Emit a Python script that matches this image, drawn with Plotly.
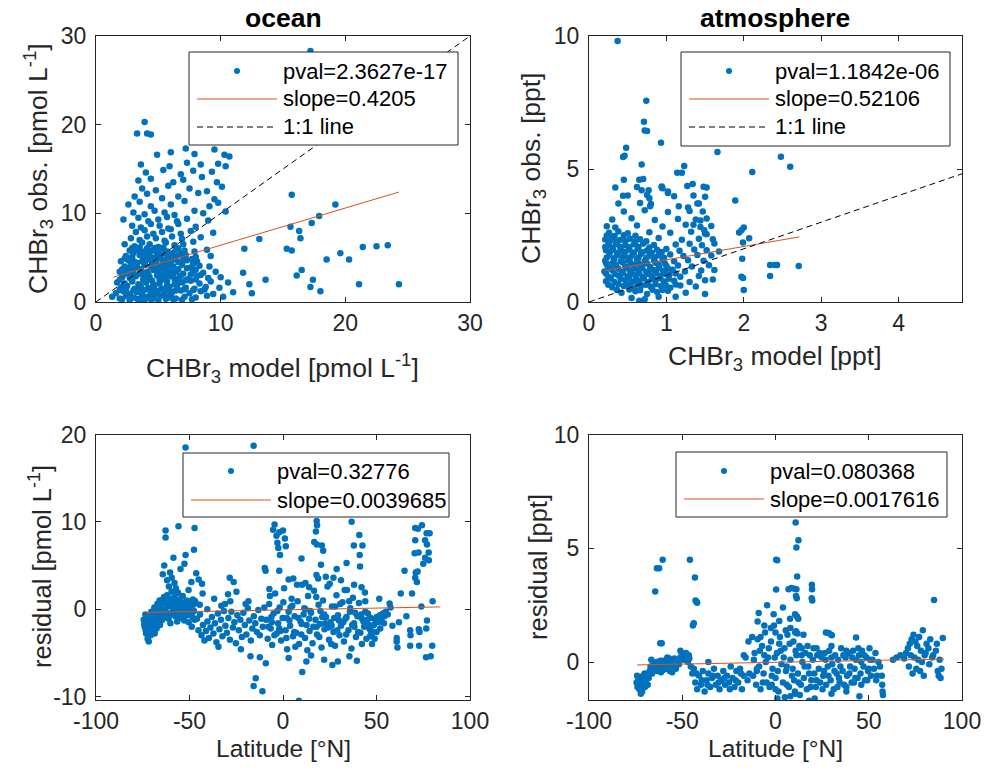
import plotly.graph_objects as go
from plotly.subplots import make_subplots

# ocean: model vs observed CHBr3 [pmol/L]
ocean_model = [
    1.3, 1.9, 2.4, 3.0, 3.5, 4.1, 4.6, 5.2, 5.8, 6.4, 7.1, 8.0, 8.9, 10.2,
    1.6, 2.2, 2.7, 3.3, 3.8, 4.4, 4.9, 5.5, 6.1, 6.8, 7.5, 8.4, 9.4, 11.0,
    2.0, 2.5, 3.1, 3.6, 4.2, 4.7, 5.3, 5.9, 6.5, 7.2, 7.9, 8.8, 9.9,
    1.7, 2.3, 2.9, 3.4, 4.0, 4.5, 5.1, 5.7, 6.3, 6.9, 7.6, 8.3, 9.2, 10.6,
    2.1, 2.7, 3.2, 3.8, 4.3, 4.9, 5.5, 6.0, 6.7, 7.4, 8.1, 9.0, 10.0,
    1.9, 2.4, 3.0, 3.5, 4.1, 4.6, 5.2, 5.8, 6.4, 7.0, 7.8, 8.6, 9.6,
    2.3, 2.8, 3.3, 3.9, 4.4, 5.0, 5.6, 6.2, 6.9, 7.6, 8.3, 9.1,
    2.0, 2.6, 3.1, 3.7, 4.2, 4.8, 5.4, 6.0, 6.6, 7.3, 8.1,
    2.4, 2.9, 3.5, 4.0, 4.6, 5.2, 5.8, 6.5, 7.2, 8.0, 9.2,
    2.7, 3.3, 3.9, 4.5, 5.1, 5.7, 6.4, 7.1, 7.9, 8.9,
    2.3, 3.1, 3.7, 4.3, 5.0, 5.6, 6.3, 7.0, 7.8,
    2.8, 3.5, 4.1, 4.8, 5.5, 6.1, 6.9, 8.4,
    3.2, 3.9, 4.6, 5.3, 6.0, 6.8, 7.6, 9.4,
    2.9, 3.6, 4.4, 5.1, 5.8, 6.6, 8.0,
    2.2, 3.4, 4.2, 5.0, 5.7, 6.5, 7.3, 9.0,
    3.0, 3.9, 4.7, 5.5, 6.3, 7.9, 8.6, 10.4,
    2.6, 3.5, 4.4, 6.0, 7.1, 9.1, 9.8,
    3.1, 4.1, 5.3, 6.6, 8.2, 9.5,
    3.7, 4.8, 5.8, 7.5, 8.9, 10.1,
    3.4, 4.4, 6.2, 7.0, 8.5, 9.7,
    4.0, 5.4, 6.8, 7.8, 9.3,
    3.6, 5.9, 7.3, 8.4, 9.8, 10.4,
    4.9, 6.0, 7.9, 10.3, 10.7,
    3.3, 3.9, 4.1, 4.4, 7.2, 9.5, 17.2,
    11.8, 11.9, 12.3, 12.5, 13.1, 13.6, 15.3, 15.6, 15.7, 15.7, 16.1, 16.3, 16.4, 16.5,
    17.3, 17.4, 17.2, 17.9, 18.0, 18.5, 19.2, 20.3, 21.1, 21.4, 22.5, 23.4, 24.3, 19.6,
    2.6, 3.2, 3.7, 4.3, 4.8, 5.4, 6.0, 2.9, 3.5, 4.0, 4.6, 5.1, 5.7, 6.3,
    3.0, 3.6, 4.2, 4.7, 5.3, 6.8, 7.3, 3.3, 4.5, 5.0, 5.6, 6.2,
    2.1, 2.7, 3.3, 3.9, 4.4, 5.0, 5.6, 6.2, 6.9, 7.7,
    1.9, 2.4, 3.0, 3.5, 4.1, 4.6, 5.2, 5.8, 6.4, 7.1, 7.8, 8.7,
    1.9, 3.8, 5.3, 6.6, 7.2, 8.0,
    2.2, 2.7, 3.9, 5.0, 5.6, 6.2, 7.6, 8.4,
    2.1, 2.6, 4.8, 5.4, 6.0, 6.6, 8.0,
    2.8, 3.9, 5.3, 6.0, 6.9, 7.8,
    2.3, 2.9, 3.8, 5.7, 6.3, 7.0, 7.7,
    3.0, 3.7, 4.3, 4.9, 5.5, 6.1, 6.8,
    2.9, 3.5, 4.1, 4.7, 5.4, 6.6,
]
ocean_obs = [
    0.6, 0.4, 0.7, 0.5, 0.3, 0.6, 0.4, 0.7, 0.5, 0.4, 0.6, 0.5, 0.7, 0.6,
    1.0, 1.2, 0.9, 1.1, 1.3, 1.0, 1.2, 0.9, 1.1, 1.3, 1.0, 1.2, 0.9, 1.1,
    1.6, 1.8, 1.5, 1.7, 1.6, 1.9, 1.5, 1.7, 1.8, 1.6, 1.5, 1.7, 1.6,
    2.2, 2.1, 2.3, 2.0, 2.2, 2.4, 2.1, 2.3, 2.0, 2.2, 2.4, 2.1, 2.3, 2.2,
    2.8, 2.7, 2.9, 2.6, 2.8, 3.0, 2.7, 2.9, 2.8, 2.6, 2.9, 2.7, 2.8,
    3.4, 3.3, 3.5, 3.2, 3.4, 3.6, 3.3, 3.5, 3.4, 3.2, 3.5, 3.3, 3.4,
    4.0, 4.1, 3.9, 4.2, 4.0, 3.9, 4.1, 4.0, 4.2, 3.9, 4.1, 4.0,
    4.6, 4.7, 4.5, 4.6, 4.8, 4.5, 4.7, 4.6, 4.5, 4.7, 4.6,
    5.2, 5.1, 5.3, 5.2, 5.0, 5.3, 5.1, 5.2, 5.3, 5.1, 5.2,
    5.8, 5.9, 5.7, 5.8, 6.0, 5.7, 5.9, 5.8, 5.7, 5.9,
    6.5, 6.3, 6.7, 6.5, 6.2, 6.7, 6.4, 6.5, 6.8,
    7.2, 7.0, 7.4, 7.2, 6.9, 7.4, 7.1, 7.3,
    7.9, 8.1, 7.7, 7.9, 8.2, 7.7, 8.0, 7.8,
    8.6, 8.4, 8.8, 8.6, 8.3, 8.8, 8.5,
    9.3, 9.5, 9.1, 9.3, 9.6, 9.1, 9.4, 9.2,
    10.1, 9.9, 10.3, 10.1, 9.8, 10.3, 10.0, 10.2,
    11.0, 11.3, 10.8, 11.0, 11.4, 10.8, 11.2,
    11.9, 12.2, 11.7, 11.9, 12.3, 11.6,
    12.8, 12.6, 13.1, 12.8, 12.5, 13.0,
    13.7, 13.9, 13.5, 13.8, 14.1, 13.5,
    14.6, 14.9, 14.4, 14.8, 14.7,
    15.5, 15.3, 15.7, 15.5, 15.6, 15.3,
    16.6, 16.9, 16.7, 16.6, 16.4,
    19.0, 20.3, 19.0, 18.9, 17.3, 17.2, 28.3,
    3.3, 6.0, 2.0, 1.0, 7.1, 2.5, 6.0, 8.5, 5.8, 12.1, 3.0, 8.0, 7.2, 3.6,
    8.9, 2.5, 1.7, 9.7, 1.2, 4.8, 11.0, 4.8, 2.0, 6.2, 6.3, 6.4, 2.0, 5.5,
    0.9, 1.4, 0.8, 1.5, 0.9, 1.4, 0.8, 2.5, 1.9, 2.6, 2.0, 2.5, 1.9, 2.6,
    3.1, 3.7, 3.1, 3.8, 3.2, 3.0, 3.8, 4.4, 4.3, 4.9, 4.4, 4.8,
    0.3, 0.2, 0.35, 0.25, 0.3, 0.2, 0.35, 0.3, 0.25, 0.3,
    1.35, 1.4, 1.3, 1.35, 1.45, 1.3, 1.4, 1.35, 1.3, 1.45, 1.35, 1.4,
    2.5, 2.45, 2.55, 2.5, 2.45, 2.55,
    3.1, 3.05, 3.15, 3.1, 3.05, 3.15, 3.1, 3.05,
    3.7, 3.75, 3.65, 3.7, 3.75, 3.7, 3.65,
    4.3, 4.35, 4.25, 4.3, 4.35, 4.3,
    4.9, 4.95, 4.85, 4.9, 4.95, 4.9, 4.85,
    5.5, 5.55, 5.45, 5.5, 5.55, 5.5, 5.45,
    6.1, 6.15, 6.05, 6.1, 6.15, 6.05,
]
ocean_fit_x = [1.4, 24.3]
ocean_fit_y = [2.8, 12.4]
ocean_one = [0, 30]

# atmosphere: model vs observed CHBr3 [ppt]
atm_model = [
    0.55, 0.72, 0.9, 0.65, 1.12,
    0.42, 0.6, 0.75, 0.88, 1.02, 1.25, 1.5,
    0.3, 0.45, 0.58, 0.68, 0.8, 0.93, 1.05, 1.18, 1.38,
    0.22, 0.33, 0.47, 0.56, 0.65, 0.76, 0.86, 0.97, 1.1, 1.3, 1.5, 1.6,
    0.25, 0.38, 0.5, 0.6, 0.7, 0.82, 0.92, 1.04, 1.18, 1.42,
    0.2, 0.3, 0.43, 0.53, 0.64, 0.74, 0.85, 0.96, 1.08, 1.24, 1.45, 1.62,
    0.24, 0.35, 0.47, 0.57, 0.68, 0.79, 0.9, 1.0, 1.15, 1.33, 1.55,
    0.21, 0.32, 0.41, 0.51, 0.62, 0.72, 0.84, 0.95, 1.1, 1.28, 1.48,
    0.26, 0.37, 0.46, 0.56, 0.67, 0.78, 0.9, 1.05, 1.22, 1.4, 1.58,
    0.22, 0.31, 0.42, 0.52, 0.63, 0.75, 0.88, 1.0, 1.17, 1.36, 1.52,
    0.25, 0.35, 0.47, 0.58, 0.7, 0.84, 1.12, 1.3, 1.46,
    0.21, 0.3, 0.4, 0.53, 0.66, 0.9, 1.2, 1.42, 1.6,
    0.26, 0.38, 0.5, 0.78, 1.05, 1.32, 1.5,
    0.23, 0.34, 0.62, 0.95, 1.25, 1.44, 1.58,
    0.3, 0.55, 0.85, 1.15, 1.38, 1.52,
    0.45, 0.72, 1.02, 1.3, 1.47, 0.38, 0.66, 0.8, 1.4, 0.5,
    0.75, 1.1, 1.35, 0.34, 0.62, 0.95, 1.52, 0.45, 0.7,
    0.37, 0.74, 0.71, 0.72, 0.75, 0.93, 0.48, 0.44, 0.46, 0.68,
    1.66, 1.23, 1.2, 2.48, 2.6, 2.11, 1.89,
    1.99, 1.94, 1.97, 2.07, 1.98, 1.97, 1.99, 2.0, 2.34, 2.34, 2.4, 2.43, 2.71,
    1.48, 1.5, 1.34, 1.27, 1.14, 1.02, 0.94, 1.16, 1.28, 1.42,
    1.44, 1.35, 1.49, 1.52, 2.0, 1.62, 1.68,
    0.44, 0.65, 0.68, 0.77, 0.78, 0.79, 0.94, 1.02,
    0.36, 0.52, 0.66, 0.82, 0.95,
    0.25, 0.38, 0.52, 0.63, 0.74, 0.86, 0.99, 1.12,
    0.28, 0.41, 0.52, 0.61, 0.71, 0.81, 0.92, 1.03,
    0.22, 0.33, 0.44, 0.55, 0.65, 0.77, 0.87, 0.99, 1.12,
    0.27, 0.38, 0.49, 0.59, 0.69, 0.8, 0.91, 1.02,
    0.22, 0.3, 0.44, 0.54, 0.64, 0.75, 0.86, 0.98,
    0.23, 0.33, 0.43, 0.53, 0.64, 0.74, 0.85, 0.97,
    0.27, 0.36, 0.47, 0.58, 0.69, 0.81, 0.94,
    0.21, 0.3, 0.4, 0.52, 0.64, 0.78,
    0.27, 0.36, 0.47, 0.6, 0.74,
    0.23, 0.33, 0.45, 0.6,
]
atm_obs = [
    0.15, 0.1, 0.2, 0.05, 0.2,
    0.35, 0.4, 0.3, 0.38, 0.42, 0.35, 0.3,
    0.55, 0.6, 0.52, 0.62, 0.57, 0.6, 0.54, 0.62, 0.58,
    0.78, 0.75, 0.82, 0.76, 0.8, 0.74, 0.83, 0.77, 0.8, 0.75, 0.82, 0.85,
    0.95, 1.0, 0.97, 1.02, 0.94, 1.0, 0.97, 1.03, 0.95, 0.98,
    1.15, 1.2, 1.13, 1.18, 1.22, 1.14, 1.19, 1.16, 1.21, 1.15, 1.18, 1.2,
    1.35, 1.38, 1.33, 1.4, 1.36, 1.32, 1.39, 1.35, 1.37, 1.33, 1.38,
    1.55, 1.58, 1.53, 1.57, 1.6, 1.54, 1.56, 1.59, 1.53, 1.57, 1.55,
    1.75, 1.78, 1.73, 1.77, 1.8, 1.74, 1.76, 1.79, 1.73, 1.77, 1.75,
    1.95, 1.98, 1.93, 1.97, 2.0, 1.94, 1.96, 1.99, 1.93, 1.97, 1.95,
    2.15, 2.18, 2.13, 2.17, 2.2, 2.14, 2.16, 2.19, 2.13,
    2.35, 2.4, 2.33, 2.38, 2.36, 2.41, 2.34, 2.38, 2.36,
    2.6, 2.65, 2.58, 2.62, 2.6, 2.64, 2.57,
    2.85, 2.8, 2.88, 2.84, 2.9, 2.82, 2.86,
    3.1, 3.15, 3.08, 3.12, 3.1, 3.14,
    3.4, 3.45, 3.38, 3.42, 3.4, 3.7, 3.72, 3.68, 3.7, 4.0,
    4.02, 3.98, 4.0, 4.3, 4.32, 4.28, 4.3, 4.6, 4.62,
    9.81, 7.57, 6.78, 6.45, 6.43, 5.99, 5.8, 5.45, 5.5, 5.17,
    5.64, 5.11, 4.86, 5.46, 5.08, 4.89, 3.82,
    2.24, 2.61, 2.7, 2.4, 1.63, 0.95, 0.9, 0.45, 0.98, 1.39, 1.39, 1.39, 1.35,
    4.33, 3.96, 4.44, 4.36, 4.86, 4.15, 4.3, 3.6, 3.55, 3.7,
    3.06, 2.9, 2.7, 2.55, 2.8, 2.2, 1.9,
    3.99, 4.6, 4.2, 4.2, 3.9, 3.6, 4.34, 4.1,
    0.45, 0.47, 0.44, 0.46, 0.45,
    0.65, 0.67, 0.64, 0.66, 0.65, 0.67, 0.64, 0.66,
    0.88, 0.86, 0.89, 0.87, 0.88, 0.86, 0.89, 0.87,
    1.07, 1.05, 1.08, 1.06, 1.07, 1.05, 1.08, 1.06, 1.07,
    1.27, 1.25, 1.28, 1.26, 1.27, 1.25, 1.28, 1.26,
    1.47, 1.45, 1.48, 1.46, 1.47, 1.45, 1.48, 1.46,
    1.67, 1.65, 1.68, 1.66, 1.67, 1.65, 1.68, 1.66,
    1.87, 1.85, 1.88, 1.86, 1.87, 1.85, 1.88,
    2.07, 2.05, 2.08, 2.06, 2.07, 2.05,
    2.28, 2.26, 2.29, 2.27, 2.28,
    2.5, 2.48, 2.51, 2.49,
]
atm_fit_x = [0.2, 2.72]
atm_fit_y = [1.18, 2.45]
atm_one = [0, 4.82]

# ocean residual vs latitude
ocean_lat = [
    -74.5, -74.0, -73.6, -73.2, -72.8, -72.4, -72.0, -71.6, -71.2, -70.8,
    -70.4, -70.0, -69.6, -69.2, -68.8, -68.4, -68.0, -67.6, -67.2, -66.8,
    -74.2, -73.4, -72.6, -71.8, -71.0, -70.2, -69.4, -68.6, -67.8, -67.0,
    -66.4, -66.0, -65.6, -65.2, -64.8, -64.4, -64.0, -63.6, -63.2, -62.8,
    -62.4, -62.0, -61.6, -61.2, -60.8, -60.4, -60.0, -59.6, -59.2, -58.8,
    -58.4, -58.0, -57.6, -57.2, -56.8, -56.4, -56.0, -55.6, -55.2, -54.8,
    -54.4, -54.0, -53.6, -53.2, -52.8, -52.4, -52.0, -51.6, -51.2, -50.8,
    -50.4, -50.0, -49.6, -49.2, -48.8, -48.4, -48.0, -47.6, -47.2, -46.8,
    -65.8, -64.6, -63.0, -61.8, -60.2, -59.0, -57.8, -56.6, -55.4, -53.8,
    -66.0, -64.8, -64.3, -63.5, -62.8, -62.8, -62.0, -60.4, -59.5, -58.6,
    -58.0, -57.3, -56.2, -55.9, -54.8, -52.7, -52.1, -52.1, -48.2, -47.6,
    -47.3, -47.0, -46.4, -45.1, -43.3, -43.0, -61.0, -50.5, -49.0, -44.5,
    -46.0, -45.2, -44.4, -43.6, -42.8, -42.0, -41.2, -40.4, -39.6, -38.8,
    -38.0, -37.2, -36.4, -35.6, -34.8, -34.0, -33.2, -32.4, -31.6, -30.8,
    -30.0, -29.2, -28.4, -27.6, -26.8, -26.0, -25.2, -24.4, -23.6, -22.8,
    -22.0, -21.2, -20.4, -19.6, -18.8, -18.0, -17.2, -16.4, -15.6, -14.8,
    -14.0, -13.2, -12.4, -11.6, -10.8, -10.0, -28.5, -26.4, -29.4, -28.2,
    -24.9, -33.0, -36.8, -20.0, -18.5, -40.5, -31.0, -17.4, -12.4, -9.2,
    -14.6, -15.7, -11.0, -15.7, -9.75, -9.3, -7.3, -7.0, -34.5, -22.5,
    -9.0, -8.2, -7.4, -6.6, -5.8, -5.0, -4.2, -3.4, -2.6, -1.8,
    -1.0, -0.2, 0.6, 1.4, 2.2, 3.0, 3.8, 4.6, 5.4, 6.2,
    7.0, 7.8, 8.6, 9.4, 10.2, 11.0, 11.8, 12.6, 13.4, 14.2,
    15.0, 15.8, 16.6, 17.4, 18.2, 19.0, 19.8, 20.6, 21.4, 22.2,
    23.0, 23.8, 24.6, 25.4, 26.2, 27.0, 27.8, 28.6, 29.4, 30.2,
    31.0, 31.8, 32.6, 33.4, 34.2, 35.0, 35.8, 36.6, 37.4, 38.2,
    39.0, 39.8, 40.6, 41.4, 42.2, 43.0, 43.8, 44.6, 45.4, 46.2,
    -7.8, -6.2, -4.6, -3.0, -1.4, 0.2, 1.8, 3.4, 5.0, 6.6,
    8.2, 9.8, 11.4, 13.0, 14.6, 16.2, 17.8, 19.4, 21.0, 22.6,
    24.2, 25.8, 27.4, 29.0, 30.6, 32.2, 33.8, 35.4, 37.0, 38.6,
    40.2, 41.8, 43.4, 45.0, 46.6, 47.0, 47.2, 47.4, 47.6, 47.0,
    48.6, 49.4, 50.2, 51.0, 51.8, 52.6, 53.4, 54.2, 55.0, 56.0,
    57.0, 57.5, 50.0, 52.0, 54.0, 49.0, 51.5, 44.0, 42.0, 38.0,
    -6.0, -2.0, 2.0, 6.0, 10.0, 14.0, 18.0, 22.0, 26.0, 30.0,
    34.0, 38.0, 42.0, 46.0, 4.0, 12.0, 20.0, 28.0, 36.0, 44.0,
    -5.3, -4.5, -3.5, -3.0, -2.5, -2.0, -1.6, -2.0, 0.0, 1.0,
    1.5, 5.5, 9.9, 18.0, 18.2, 17.6, 16.7, 18.1, 20.8, 21.5,
    36.7, 40.8, 37.9, 42.5, 41.0, 41.2, 34.0, 28.7, 20.3, 17.9,
    18.8, 22.9, 12.0, 25.0, 31.0, 14.0, 3.0, 7.5, 27.0, 33.0,
    26.4, 29.3, 10.3, 8.5, 3.0, 15.0, 22.0, 35.5, 39.5, 12.5,
    70.7, 72.1, 74.3, 76.8, 78.4, 70.7, 76.0, 77.0, 70.4, 72.5,
    77.9, 76.0, 78.0, 75.0, 71.0, 72.0, 70.7, 71.6, 69.0, 65.0,
    63.0, 60.8, 60.8, 61.2, 68.0, 68.2, 72.6, 73.0, 77.0, 76.6,
    68.0, 72.8, 76.5, 79.0, 79.8, 80.0, 62.0, 66.0, 74.0, 58.5,
]
ocean_res = [
    -1.2, -2.0, -0.6, -2.8, -1.6, -3.4, -0.9, -2.3, -1.4, -3.0,
    -0.3, -1.9, -2.6, -1.1, 0.2, -1.7, -0.5, -2.2, 0.6, -1.0,
    -1.7, -2.4, -1.0, -3.7, -2.0, -0.8, -1.5, -2.8, -1.3, 0.1,
    -0.6, 0.4, -1.4, 1.0, -0.2, 0.7, -0.9, 1.4, 0.0, 0.9,
    -0.4, 1.6, 0.3, -1.1, 1.2, 0.5, -0.6, 2.0, 0.8, -0.1,
    1.3, 0.2, -0.8, 0.9, 1.8, -0.3, 0.6, 1.1, -1.0, 0.3,
    0.8, -0.5, 1.5, 0.1, -1.3, 0.6, -0.2, 1.0, -0.7, 0.4,
    -1.5, 0.2, -0.4, 0.9, -2.0, -0.9, 0.5, -0.2, -1.2, 0.7,
    -1.8, -1.2, -0.9, -0.5, -1.6, -0.3, -0.4, -1.4, -0.1, -0.9,
    1.0, 0.7, 4.0, 5.0, 9.0, 8.2, 3.3, 4.2, 3.6, 5.9,
    3.0, 2.4, 1.9, 9.5, 4.6, 5.2, 6.2, 18.5, 1.1, 6.8,
    9.3, 0.9, 4.1, 3.4, 2.9, 1.8, 2.6, 2.2, 3.1, 0.5,
    -1.1, -2.4, -0.6, -3.0, -1.8, -3.6, -2.5, -1.4, -3.3, -2.1,
    -0.9, -2.8, -1.6, -3.8, -0.5, -2.3, -1.2, -3.1, -0.2, -1.9,
    -2.7, -1.0, -3.5, -0.3, -2.1, -1.5, -3.9, -0.7, -2.4, -1.2,
    -3.2, -0.4, -1.8, -2.9, 0.1, -1.3, -3.6, -2.2, -0.8, -1.6,
    -2.6, -0.1, -3.0, -1.1, -2.0, 0.2, 3.6, 3.1, 1.7, 0.9,
    2.0, 0.4, 1.2, 0.6, 0.9, 0.0, 0.6, -5.4, -5.5, -6.2,
    -7.9, -8.8, -9.4, 18.7, 4.7, 4.4, 2.3, 1.5, -4.3, -4.6,
    -1.2, -3.4, 0.6, -2.2, -4.1, -0.5, 1.8, -2.8, -1.6, 0.2,
    -3.6, -1.0, 2.4, -2.4, -4.6, -0.3, -1.9, 1.2, -3.1, -0.8,
    -2.7, 0.9, -4.0, -1.4, 2.8, -0.6, -3.3, -1.8, 1.5, -2.5,
    -0.4, -3.9, 2.1, -1.2, -2.9, 0.5, -1.7, -4.4, 1.0, -2.3,
    -0.9, 2.6, -3.5, -1.5, 0.3, -2.6, -4.2, 1.6, -0.7, -3.0,
    -1.9, 0.8, -3.7, -1.1, 2.2, -2.4, -0.3, -4.5, 1.3, -2.0,
    -3.2, -0.8, 0.7, -2.7, -4.0, -1.4, 1.9, -3.4, -0.5, -2.2,
    -2.0, -0.9, -3.0, -0.2, -2.5, 0.8, -3.3, -1.3, 0.4, -4.3,
    -1.0, -2.9, 0.1, -4.7, -0.2, -2.0, 1.4, -3.2, -0.9, -1.6,
    -2.1, -4.0, -1.0, -2.4, 0.6, -1.5, -2.9, 0.9, -1.8, -0.4,
    -2.6, -0.6, -2.0, -1.2, -3.1, -1.0, -2.0, -3.0, -4.0, -2.5,
    -1.8, -1.2, -0.9, -1.5, -0.7, -1.1, -0.5, -0.8, -0.3, -0.6,
    0.65, 0.2, -2.6, -2.2, -1.6, -3.4, 1.2, 0.9, 2.5, 2.8,
    -1.5, -2.2, -1.0, -2.6, -1.7, -1.1, -2.0, -0.6, -1.9, -1.3,
    -0.9, -1.6, -1.0, -1.8, 0.2, 0.0, -0.2, 0.3, 0.1, -0.3,
    9.1, 9.7, 8.4, 7.6, 7.0, 8.8, 6.2, 4.4, 9.0, 8.1,
    7.2, 3.5, 5.8, 10.1, 9.6, 8.9, 7.7, 7.4, 7.3, 6.7,
    10.0, 8.5, 7.3, 7.3, 6.2, 4.9, 5.3, 4.6, 5.1, 3.9,
    3.5, 3.7, 3.0, 2.9, 3.3, 2.5, 3.4, 2.8, 3.6, 2.2,
    -6.4, -6.0, -7.2, -10.5, -5.6, -5.3, -5.8, -5.4, -5.9, -6.0,
    9.3, 9.2, 9.6, 8.7, 8.7, 7.9, 7.9, 7.4, 6.4, 6.5,
    6.5, 5.9, 5.6, 5.2, 4.2, 4.3, 3.6, 3.1, 1.8, 4.4,
    1.8, -3.3, -3.7, -4.4, -2.4, -3.0, -2.3, -2.6, -1.3, -2.2,
    -4.2, -4.2, -5.5, -5.4, -4.2, 0.9, -1.5, -0.8, 0.3, -1.9,
]
ocean_res_fit_x = [-73.6, 84.1]
ocean_res_fit_y = [-0.38, 0.26]

# atmosphere residual vs latitude
atm_lat = [
    -74.5, -74.0, -73.5, -73.0, -72.5, -72.0, -71.5, -71.0, -70.5, -70.0,
    -74.2, -73.2, -72.2, -71.2, -70.2, -69.5, -69.0, -68.5, -68.0, -67.5,
    -67.0, -66.2, -65.4, -64.6, -63.8, -63.0, -62.2, -61.4, -60.6, -59.8,
    -59.0, -58.2, -57.4, -56.6, -55.8, -55.0, -54.2, -53.4, -52.6, -51.8,
    -51.0, -50.2, -49.4, -48.6, -47.8, -47.0, -46.2, -45.4, -44.6, -43.8,
    -66.6, -65.0, -63.4, -61.8, -60.2, -58.6, -57.0, -55.4, -53.8, -50.6,
    -60.5, -63.6, -62.4, -64.5, -61.8, -61.0, -45.9, -43.2, -42.9, -42.4,
    -42.0, -44.3, -43.8, -48.0, -46.5, -58.0, -51.0,
    -43.0, -42.0, -41.0, -40.0, -39.0, -38.0, -37.0, -36.0, -35.0, -34.0,
    -33.0, -32.0, -31.0, -30.0, -29.0, -28.0, -27.0, -26.0, -25.0, -24.0,
    -23.0, -22.0, -21.0, -20.0, -19.0, -18.0, -17.0, -16.0, -15.0, -14.0,
    -42.5, -39.5, -36.5, -33.5, -30.5, -27.5, -24.5, -21.5, -18.5, -36.0,
    -14.5, -12.5, -17.0,
    -12.0, -11.2, -10.4, -9.6, -8.8, -8.0, -7.2, -6.4, -5.6, -4.8,
    -4.0, -3.2, -2.4, -1.6, -0.8, 0.0, 0.8, 1.6, 2.4, 3.2,
    4.0, 4.8, 5.6, 6.4, 7.2, 8.0, 8.8, 9.6, 10.4, 11.2,
    12.0, 12.8, 13.6, 14.4, 15.2, 16.0, 16.8, 17.6, 18.4, 19.2,
    20.0, 20.8, 21.6, 22.4, 23.2, 24.0, 24.8, 25.6, 26.4, 27.2,
    28.0, 28.8, 29.6, 30.4, 31.2, 32.0, 32.8, 33.6, 34.4, 35.2,
    36.0, 36.8, 37.6, 38.4, 39.2, 40.0, 40.8, 41.6, 42.4, 43.2,
    44.0, 44.8, 45.6, 46.4, 47.2, 48.0, 48.8, 49.6, 50.4, 51.2,
    52.0, 52.8, 53.6, 54.4, 55.2, 56.0, 57.0, 57.2, 57.4, 57.6,
    -11.6, -10.0, -8.4, -6.8, -5.2, -3.6, -2.0, -0.4, 1.2, 2.8,
    4.4, 6.0, 7.6, 9.2, 10.8, 12.4, 14.0, 15.6, 17.2, 18.8,
    20.4, 22.0, 23.6, 25.2, 26.8, 28.4, 30.0, 31.6, 33.2, 34.8,
    36.4, 38.0, 39.6, 41.2, 42.8, 44.4, 46.0, 47.6, 49.2, 50.8,
    -10.0, -6.0, -2.0, 2.0, 6.0, 10.0, 14.0, 18.0, 22.0, 26.0,
    30.0, 34.0, 38.0, 42.0, 46.0, 50.0, 54.0, -8.0, 0.0, 8.0,
    0.35, 0.35, -4.5, -9.0, -9.6, 10.8, 12.3, 11.2, 11.6, 0.9,
    7.0, 8.5, 10.2, 11.2, 19.5, 19.6, 19.4, 19.7, 11.0, 11.4,
    4.0, 7.8, 10.5, 11.5, 12.2, 10.6, 11.0, 11.8, 0.0, -6.0,
    27.0, 28.5, 29.8, 30.2, 43.2, -2.5, -1.0, 2.0, 5.5, 15.0,
    18.0, 21.0, 10.7, 5.0, 8.0, 30.0, 38.0, 45.0, 1.0, 13.0,
    63.0, 65.0, 67.0, 69.0, 70.0, 71.0, 72.0, 73.0, 74.0, 75.0,
    76.0, 77.0, 78.0, 79.0, 80.0, 81.0, 82.0, 83.0, 84.0, 85.0,
    71.5, 72.5, 73.5, 74.5, 75.5, 76.5, 77.5, 78.5, 79.5, 80.5,
    86.0, 87.0, 87.5, 88.0, 88.5, 89.0, 89.7, 86.5, 84.5, 82.5,
]
atm_res = [
    -0.9, -1.1, -0.7, -1.2, -0.8, -1.0, -1.3, -0.6, -0.9, -1.1,
    -0.6, -0.8, -1.4, -0.7, -0.5, -0.9, -0.6, -1.0, -0.7, -0.4,
    -0.2, -0.5, -0.1, -0.35, 0.0, -0.3, -0.15, -0.45, 0.05, -0.25,
    -0.1, 0.1, -0.2, -0.4, 0.0, -0.15, 0.15, -0.3, 0.05, -0.1,
    0.2, 0.35, 0.1, 0.3, 0.25, 0.0, 0.15, -0.2, -0.5, -0.3,
    0.1, -0.25, -0.4, 0.05, -0.35, -0.3, 0.15, -0.45, -0.25, 0.15,
    4.49, 4.12, 4.12, 3.1, 0.82, 0.82, 4.49, 3.71, 2.7, 2.65,
    2.6, 1.6, 1.7, 0.4, 0.3, 0.2, 0.5,
    -0.9, -1.2, -0.6, -1.0, -0.4, -1.3, -0.8, -0.5, -1.1, -0.7,
    -0.3, -1.0, -0.6, -1.2, -0.8, -0.4, -1.0, -0.6, -0.9, -0.2,
    -0.7, -1.1, -0.4, -0.9, -0.3, -1.2, -0.6, 0.2, -0.8, -0.5,
    -0.5, -0.8, -1.0, -0.6, -0.9, -0.7, -1.2, -0.8, -0.5, 0.0,
    0.9, 1.1, 0.3,
    -0.6, 0.4, -1.0, 1.0, -0.2, -1.2, 0.7, -0.5, 1.3, -0.9,
    0.2, -1.1, 0.9, -0.3, 1.6, -0.7, 0.4, -1.3, 1.1, -0.1,
    -0.9, 0.6, -0.4, 1.2, -1.1, 0.1, -0.6, 0.9, -1.3, 0.3,
    -0.5, 0.7, -1.0, 0.0, -0.7, 0.4, -1.2, -0.2, 0.3, -0.8,
    0.1, -0.5, -1.1, 0.3, -0.3, -0.9, 0.2, -0.6, 0.4, -1.0,
    -0.2, 0.5, -0.8, -0.1, -1.2, 0.3, -0.5, 0.1, -0.9, 0.6,
    -0.4, -1.0, 0.2, -0.6, 0.4, -0.2, -0.9, 0.5, -0.3, 0.1,
    -0.7, 0.3, -0.5, 0.5, -0.2, -0.8, 0.2, -0.4, 0.6, -0.6,
    0.1, -0.3, 0.4, -0.6, 0.0, -0.2, -0.6, -1.0, -1.3, -1.45,
    0.1, -0.4, 0.5, -0.9, 0.0, 0.6, -1.0, 0.2, -0.4, 0.5,
    0.2, -1.0, 0.8, -0.3, 0.5, -0.9, 0.6, -0.2, 0.7, -1.1,
    0.6, -0.8, 0.4, -1.2, 0.1, -0.6, 0.7, -0.4, -1.1, -0.2,
    0.3, -1.1, -0.5, 0.2, -0.7, 0.6, -1.0, 0.3, -0.8, 0.1,
    -0.3, 0.3, -0.6, 0.8, -0.2, -0.8, 0.3, -0.5, 0.6, -0.4,
    0.2, -0.7, 0.5, -0.9, 0.0, -0.3, -0.8, 1.1, -1.2, 1.5,
    4.49, 3.19, 2.5, 2.15, 1.78, 6.13, 5.35, 5.03, 3.76, 4.47,
    3.2, 3.25, 3.22, 3.2, 3.4, 3.2, 2.8, 2.7, 2.9, 2.8,
    2.4, 1.9, 2.1, 2.0, 1.9, 1.3, 1.35, 1.25, 1.3, 1.6,
    1.3, 1.28, 1.2, 1.18, 1.08, 1.5, 2.1, 1.8, 1.4, 1.2,
    -1.7, -1.6, -1.4, -1.55, -1.5, -1.4, -1.3, -1.5, -1.6, -1.45,
    0.1, 0.2, 0.3, 0.15, 0.4, 0.6, 0.8, 1.0, 1.2, 0.9,
    0.7, 1.1, 0.5, 1.4, 0.3, 0.8, 0.6, 1.0, 0.2, 2.72,
    -0.2, 0.3, -0.5, 0.2, -0.3, 0.1, -0.4, 0.0, -0.6, 0.4,
    0.5, -0.4, -0.6, 0.1, -0.7, -0.3, 1.05, 0.8, 0.3, -0.1,
]
atm_res_fit_x = [-74.2, 90.4]
atm_res_fit_y = [-0.13, 0.13]

lat_ticks = [-100, -50, 0, 50, 100]
lat_labels = ['-100', '-50', '0', '50', '100']
legend_text = [
    ['pval=2.3627e-17', 'slope=0.4205', '1:1 line'],
    ['pval=1.1842e-06', 'slope=0.52106', '1:1 line'],
    ['pval=0.32776', 'slope=0.0039685'],
    ['pval=0.080368', 'slope=0.0017616'],
]

BLUE = '#0072BD'
ORANGE = '#D95319'
AX = '#262626'
FONT = 'Liberation Sans, Arial, sans-serif'
W, H = 985, 771


def px(x):
    return x / W


def py(y):
    return 1 - y / H


def add_legend(fig, left, top, right, bottom, rows, labels):
    """draws a matlab style legend box at pixel position"""
    fig.add_shape(type='rect', xref='paper', yref='paper', x0=px(left), x1=px(right),
                  y0=py(bottom), y1=py(top), line=dict(color=AX, width=1), fillcolor='white')
    kinds = ['marker', 'line', 'dash']
    for kind, label, yc in zip(kinds, labels, rows):
        if kind == 'marker':
            cx = left + 48
            fig.add_shape(type='circle', xref='paper', yref='paper', x0=px(cx - 3), x1=px(cx + 3),
                          y0=py(yc + 3), y1=py(yc - 3), fillcolor=BLUE, line=dict(width=0))
        else:
            dash = 'solid' if kind == 'line' else '6px,4px'
            color = ORANGE if kind == 'line' else 'black'
            fig.add_shape(type='line', xref='paper', yref='paper', x0=px(left + 8), x1=px(left + 88),
                          y0=py(yc), y1=py(yc), line=dict(color=color, width=1, dash=dash))
        fig.add_annotation(x=px(left + 92), y=py(yc), xref='paper', yref='paper', text=label,
                           showarrow=False, xanchor='left', yanchor='middle',
                           font=dict(size=22, color='black', family=FONT))


def add_text(fig, x, y, text, size=25, angle=0, color=AX):
    fig.add_annotation(x=px(x), y=py(y), xref='paper', yref='paper', text=text, showarrow=False,
                       xanchor='center', yanchor='middle', textangle=angle,
                       font=dict(size=size, color=color, family=FONT))


def main():
    fig = make_subplots(rows=2, cols=2)
    dot = dict(color=BLUE, size=6.5)
    fig.add_trace(go.Scatter(x=ocean_model, y=ocean_obs, mode='markers', marker=dot), 1, 1)
    fig.add_trace(go.Scatter(x=ocean_fit_x, y=ocean_fit_y, mode='lines', line=dict(color=ORANGE, width=1)), 1, 1)
    fig.add_trace(go.Scatter(x=ocean_one, y=ocean_one, mode='lines',
                             line=dict(color='black', width=1, dash='6px,4px')), 1, 1)
    fig.add_trace(go.Scatter(x=atm_model, y=atm_obs, mode='markers', marker=dot), 1, 2)
    fig.add_trace(go.Scatter(x=atm_fit_x, y=atm_fit_y, mode='lines', line=dict(color=ORANGE, width=1)), 1, 2)
    fig.add_trace(go.Scatter(x=atm_one, y=atm_one, mode='lines',
                             line=dict(color='black', width=1, dash='6px,4px')), 1, 2)
    fig.add_trace(go.Scatter(x=ocean_lat, y=ocean_res, mode='markers', marker=dot), 2, 1)
    fig.add_trace(go.Scatter(x=ocean_res_fit_x, y=ocean_res_fit_y, mode='lines',
                             line=dict(color=ORANGE, width=1)), 2, 1)
    fig.add_trace(go.Scatter(x=atm_lat, y=atm_res, mode='markers', marker=dot), 2, 2)
    fig.add_trace(go.Scatter(x=atm_res_fit_x, y=atm_res_fit_y, mode='lines',
                             line=dict(color=ORANGE, width=1)), 2, 2)

    axis = dict(showline=True, linecolor=AX, linewidth=1, mirror='ticks', ticks='inside', ticklen=5,
                tickcolor=AX, showgrid=False, zeroline=False, automargin=False,
                tickfont=dict(size=23, color=AX, family=FONT))
    xax = dict(axis, ticklabelstandoff=0)
    yax = dict(axis, ticklabelstandoff=4)
    left_dom = [px(96), px(470)]
    right_dom = [px(589), px(962)]
    top_dom = [py(302), py(36)]
    bot_dom = [py(700), py(434.5)]
    fig.update_layout(
        xaxis=dict(xax, domain=left_dom, range=[0, 30], tickvals=[0, 10, 20, 30]),
        yaxis=dict(yax, domain=top_dom, range=[0, 30], tickvals=[0, 10, 20, 30]),
        xaxis2=dict(xax, domain=right_dom, range=[0, 4.82], tickvals=[0, 1, 2, 3, 4]),
        yaxis2=dict(yax, domain=top_dom, range=[0, 10], tickvals=[0, 5, 10]),
        xaxis3=dict(xax, domain=left_dom, range=[-100, 100], tickvals=lat_ticks, ticktext=lat_labels),
        yaxis3=dict(yax, domain=bot_dom, range=[-10.4, 20], tickvals=[-10, 0, 10, 20],
                    ticktext=['-10', '0', '10', '20']),
        xaxis4=dict(xax, domain=right_dom, range=[-100, 100], tickvals=lat_ticks, ticktext=lat_labels),
        yaxis4=dict(yax, domain=bot_dom, range=[-1.67, 10], tickvals=[0, 5, 10]),
        width=W, height=H, margin=dict(l=0, r=0, t=0, b=0, autoexpand=False),
        plot_bgcolor='white', paper_bgcolor='white', showlegend=False,
    )

    # legends
    add_legend(fig, 189, 52, 458, 145, [71, 99, 127], legend_text[0])
    add_legend(fig, 681, 52, 950, 146, [71, 99, 127], legend_text[1])
    add_legend(fig, 183, 453, 449, 517, [471, 500], legend_text[2])
    add_legend(fig, 676, 452, 947, 517, [471, 499], legend_text[3])

    # titles and axis labels
    add_text(fig, 283, 18, '<b>ocean</b>', size=26.5, color='black')
    add_text(fig, 775, 18, '<b>atmosphere</b>', size=26.5, color='black')
    add_text(fig, 38, 169, 'CHBr<sub>3</sub> obs. [pmol L<sup>-1</sup>]', size=26.5, angle=-90)
    add_text(fig, 533, 169, 'CHBr<sub>3</sub> obs. [ppt]', size=26.5, angle=-90)
    add_text(fig, 40, 567, 'residual [pmol L<sup>-1</sup>]', size=25.5, angle=-90)
    add_text(fig, 538, 567, 'residual [ppt]', size=25.5, angle=-90)
    add_text(fig, 282, 368, 'CHBr<sub>3</sub> model [pmol L<sup>-1</sup>]', size=26.5)
    add_text(fig, 775, 358, 'CHBr<sub>3</sub> model [ppt]', size=26.5)
    add_text(fig, 283, 748, 'Latitude [°N]', size=24.5)
    add_text(fig, 775, 748, 'Latitude [°N]', size=24.5)

    # the page body has a default margin; drop it so the figure sits at 0,0
    fig.write_html('out.html', config={'displayModeBar': False},
                   post_script="document.body.style.margin='0';")


main()
